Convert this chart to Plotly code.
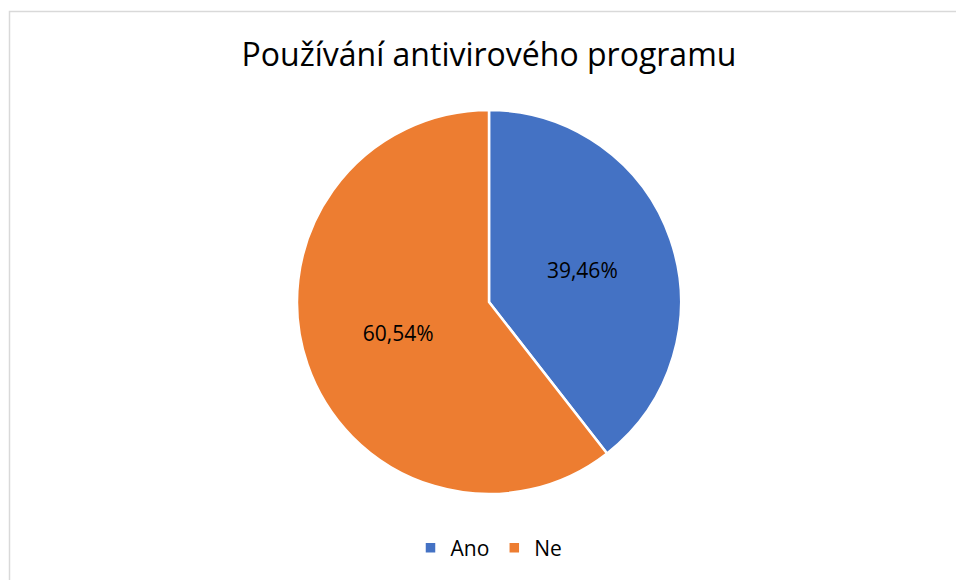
import plotly.graph_objects as go

categories = ["Ano", "Ne"]
values = [39.46, 60.54]
colors = ["#4472C4", "#ED7D31"]
title_text = "Používání antivirového programu"

W, H = 956, 580

fig = go.Figure()
fig.add_trace(go.Pie(
    labels=categories,
    values=values,
    sort=False,
    direction="clockwise",
    rotation=0,
    marker=dict(colors=colors, line=dict(color="white", width=2.5)),
    texttemplate="%{value:.2f}%",
    textposition="inside",
    insidetextorientation="horizontal",
    textfont=dict(family="Open Sans", size=21, color="#000000"),
    domain=dict(x=[297 / W, 681 / W], y=[(H - 494) / H, (H - 110) / H]),
    hoverinfo="label+percent",
))

fig.update_layout(
    width=W, height=H,
    margin=dict(l=0, r=0, t=0, b=0),
    paper_bgcolor="white",
    separators=", ",
    title=dict(text=title_text, x=489 / W, xanchor="center", y=1 - 55 / H, yanchor="middle",
               font=dict(family="Open Sans", size=32, color="#000000")),
    showlegend=True,
    legend=dict(orientation="h", x=489 / W, xanchor="center", y=1 - 548 / H, yanchor="middle",
                font=dict(family="Open Sans", size=21, color="#000000"),
                itemwidth=30, tracegroupgap=0),
    shapes=[dict(type="rect", xref="paper", yref="paper",
                 x0=9.5 / W, x1=1.2, y0=-0.2, y1=1 - 11.5 / H,
                 line=dict(color="#D9D9D9", width=1.5), fillcolor="rgba(0,0,0,0)")],
)

fig.write_html("out.html", config={"displayModeBar": False},
               post_script="document.body.style.margin='0';document.body.style.overflow='hidden';")
